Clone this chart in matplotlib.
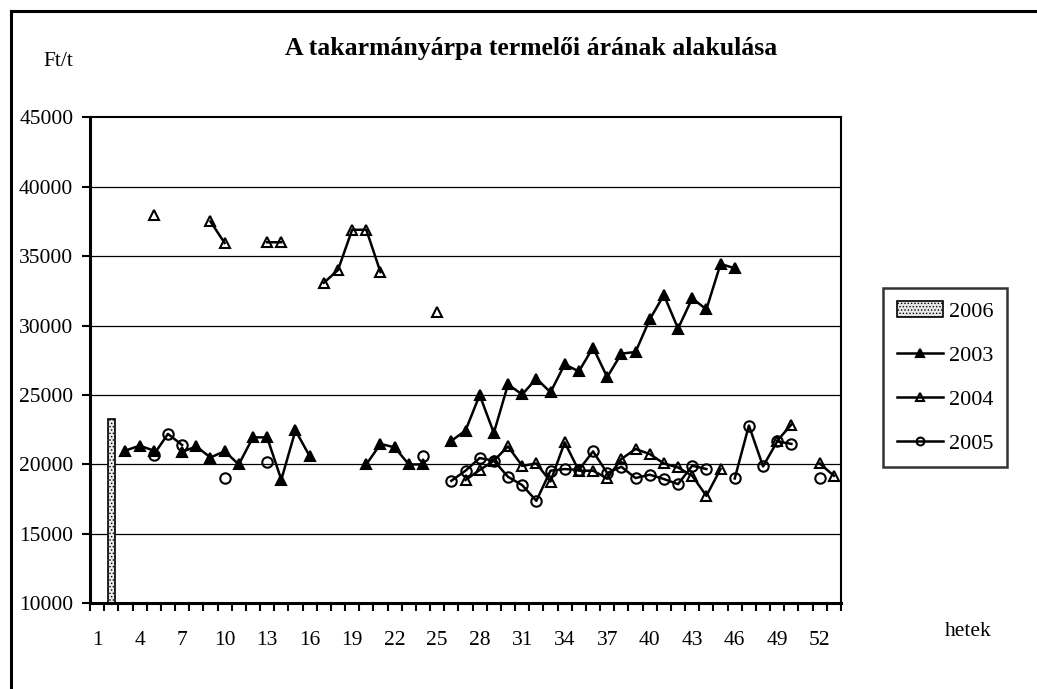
import numpy as np
import matplotlib
matplotlib.use("Agg")
import matplotlib.pyplot as plt
from matplotlib.lines import Line2D

plt.rcParams['font.family'] = ['Liberation Serif', 'DejaVu Serif']
plt.rcParams['hatch.linewidth'] = 0.6

nan = np.nan

# weeks 1..53
weeks = np.arange(1, 54)
week_labels = [str(w) for w in range(1, 54, 3)]

# 2006: only week 2 so far
bar_2006 = {2: 23280}

# 2003 (filled triangles)
y2003 = [nan, nan, 21000, 21350, 21000, nan, 20900, 21300, 20500, 20950,
         20000, 21950, 21950, 18900, 22450, 20600, nan, nan, nan, 20000,
         21480, 21230, 20000, 20000, nan, 21700, 22440, 25000, 22270, 25760,
         25040, 26180, 25200, 27210, 26700, 28420, 26290, 27980, 28100, 30440,
         32200, 29790, 31960, 31170, 34440, 34130, nan, nan, nan, nan,
         nan, nan, nan]

# 2004 (open triangles)
y2004 = [nan, nan, nan, nan, 38000, nan, nan, nan, 37500, 35950,
         nan, nan, 36000, 36000, nan, nan, 33080, 34000, 36900, 36900,
         33850, nan, nan, nan, 30950, nan, 18880, 19600, 20270, 21300,
         19900, 20070, 18770, 21590, 19550, 19550, 19000, 20390, 21110, 20750,
         20070, 19780, 19180, 17740, 19670, nan, nan, nan, 21710, 22870,
         nan, 20070, 19180]

# 2005 (open circles)
y2005 = [nan, nan, nan, nan, 20700, 22200, 21400, nan, nan, 19000,
         nan, nan, 20150, nan, nan, nan, nan, nan, nan, nan,
         nan, nan, nan, 20630, nan, 18820, 19550, 20460, 20270, 19110,
         18510, 17380, 19550, 19670, 19600, 20940, 19380, 19830, 19020, 19260,
         18950, 18580, 19910, 19670, nan, 18990, 22800, 19860, 21660, 21480,
         nan, 18990, nan]

W, H = 1037, 689
fig = plt.figure(figsize=(W / 100, H / 100), dpi=100)
ax = fig.add_axes([90 / W, 1 - 603.3 / H, (841 - 90) / W, (603.3 - 117.3) / H])

# outer chart frame (only left and top edges fall inside the picture)
fig.add_artist(Line2D([11 / W, 11 / W], [0, 1 - 11 / H], color='black', lw=2.2,
                      transform=fig.transFigure))
fig.add_artist(Line2D([11 / W, 1], [1 - 11 / H, 1 - 11 / H], color='black', lw=2.2,
                      transform=fig.transFigure))

ax.set_xlim(0.5, 53.5)
ax.set_ylim(10000, 45000)
ax.set_yticks(np.arange(10000, 45001, 5000))
for v in range(15000, 45000, 5000):
    ax.axhline(v, color='black', lw=0.9, zorder=0.5)

bar = ax.bar(list(bar_2006.keys()), list(bar_2006.values()), width=0.5,
             facecolor='#e8e8e8', edgecolor='black', hatch='.....', lw=1.2,
             label='2006', zorder=2)

mk = dict(lw=1.8, color='black', markersize=7.5, markeredgewidth=1.5, zorder=3)
ax.plot(weeks, y2005, marker='o', markerfacecolor='none', label='2005', **mk)
ax.plot(weeks, y2004, marker='^', markerfacecolor='none', label='2004', **mk)
ax.plot(weeks, y2003, marker='^', markerfacecolor='black', label='2003', **mk)

for s in ['left', 'bottom']:
    ax.spines[s].set_linewidth(2.2)
for s in ['top', 'right']:
    ax.spines[s].set_linewidth(1.5)

ax.set_xticks(np.arange(1, 54, 3))
ax.set_xticklabels(week_labels)
ax.set_xticks(np.arange(0.5, 54, 1), minor=True)
ax.tick_params(axis='x', which='major', length=0, pad=20, labelsize=15.5)
ax.tick_params(axis='x', which='minor', length=5.5, width=1.5, direction='out')
ax.tick_params(axis='y', length=6, width=1.5, pad=6, labelsize=15.5)

handles, labels = ax.get_legend_handles_labels()
order = ['2006', '2003', '2004', '2005']
hmap = dict(zip(labels, handles))
leg = fig.legend([hmap[k] for k in order], order, loc='center',
                 bbox_to_anchor=(945 / W, 1 - 377.5 / H), fontsize=16,
                 frameon=True, fancybox=False, edgecolor='black',
                 handlelength=2.1, labelspacing=1.05, borderpad=0.6,
                 handletextpad=0.25, markerscale=0.75)
leg.get_frame().set_linewidth(1.8)

fig.text(531 / W, 1 - 49 / H, 'A takarmányárpa termelői árának alakulása',
         ha='center', va='center', fontsize=18.5, fontweight='bold')
fig.text(58.5 / W, 1 - 62 / H, 'Ft/t', ha='center', va='center', fontsize=15.5)
fig.text(968 / W, 1 - 631 / H, 'hetek', ha='center', va='center', fontsize=15.5)

fig.savefig('out.png', dpi=100)
